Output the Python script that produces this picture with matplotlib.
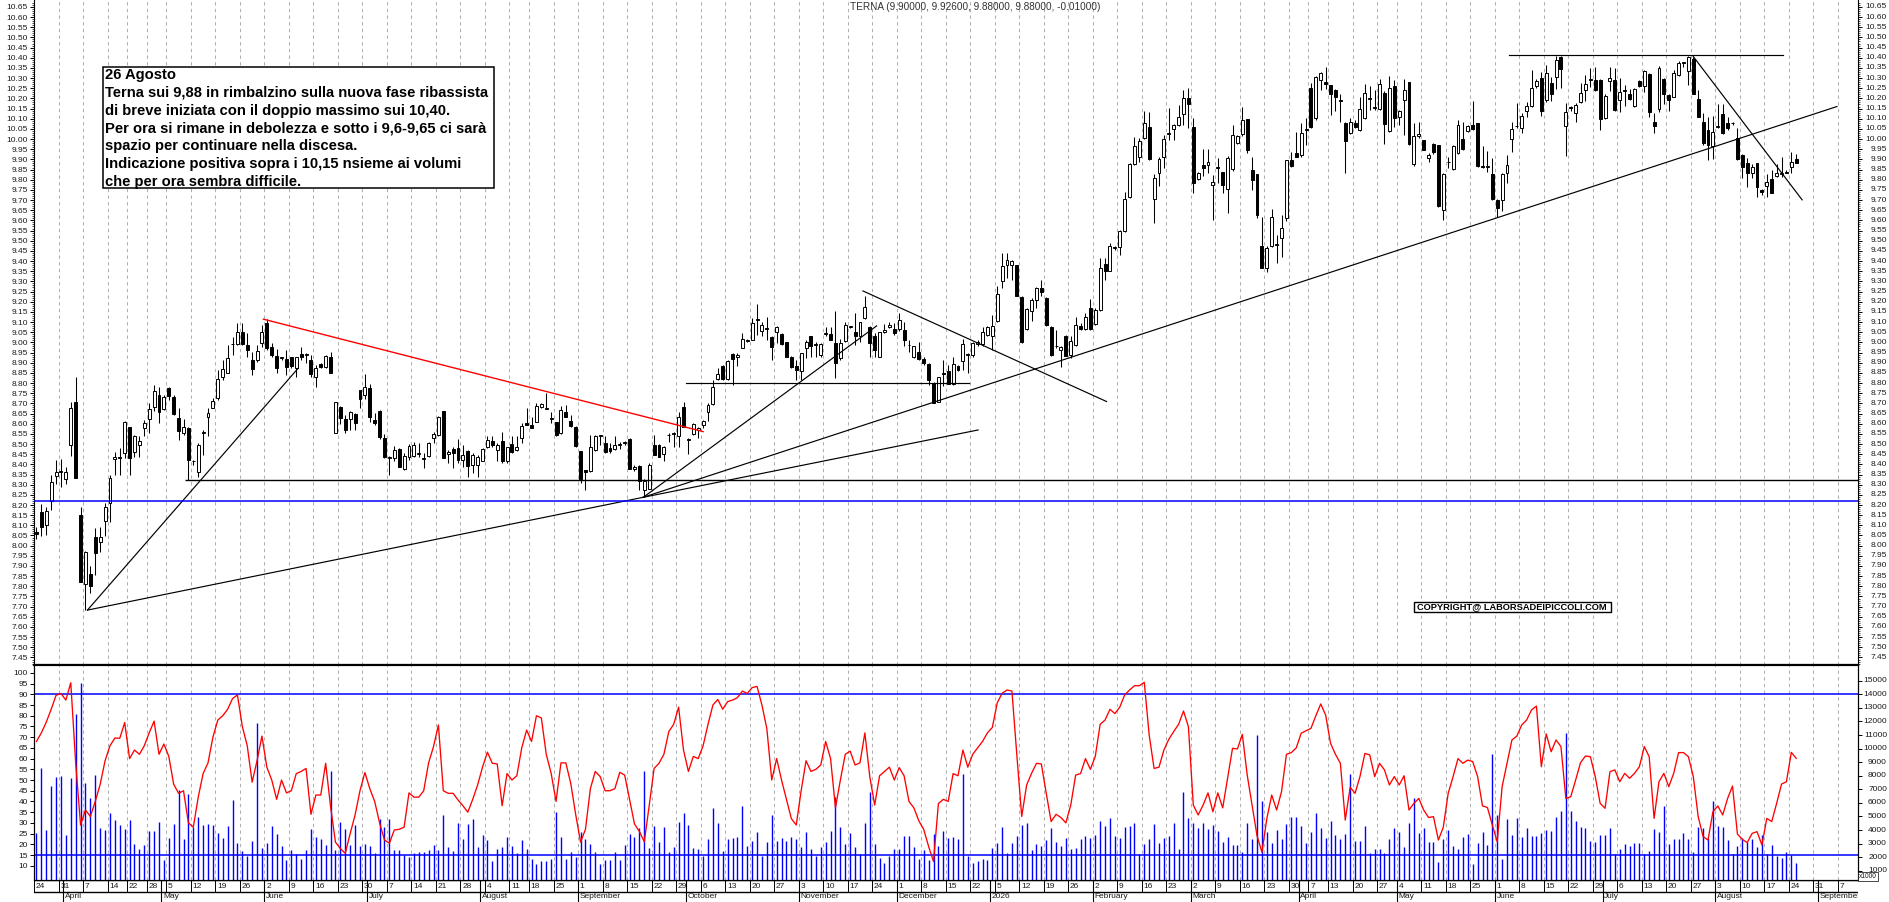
import numpy as np
import pandas as pd
import matplotlib
matplotlib.use("Agg")
import matplotlib.pyplot as plt
from matplotlib.patches import Rectangle
from matplotlib.ticker import FormatStrFormatter
from matplotlib.transforms import blended_transform_factory as blend

# ---- daily candles (24 Mar 2025 -> 26 Aug 2026) ----
opens = [
    8.066, 8.164, 8.102, 8.222, 8.345, 8.360, 8.327, 8.496, 8.705, 8.151,
    7.812, 7.859, 8.045, 8.017, 8.123, 8.212, 8.425, 8.433, 8.458, 8.582,
    8.463, 8.496, 8.577, 8.622, 8.684, 8.740, 8.671, 8.774, 8.733, 8.627,
    8.553, 8.578, 8.414, 8.360, 8.553, 8.632, 8.676, 8.725, 8.828, 8.851,
    8.990, 8.991, 9.053, 8.987, 8.914, 8.914, 8.996, 9.094, 8.976, 8.933,
    8.925, 8.920, 8.927, 8.873, 8.943, 8.940, 8.914, 8.832, 8.892, 8.877,
    8.928, 8.556, 8.681, 8.622, 8.622, 8.648, 8.766, 8.741, 8.774, 8.618,
    8.663, 8.528, 8.433, 8.430, 8.476, 8.376, 8.438, 8.442, 8.451, 8.432,
    8.442, 8.529, 8.545, 8.663, 8.451, 8.474, 8.479, 8.419, 8.465, 8.397,
    8.397, 8.415, 8.484, 8.517, 8.471, 8.515, 8.414, 8.500, 8.471, 8.529,
    8.601, 8.594, 8.610, 8.681, 8.674, 8.622, 8.607, 8.553, 8.656, 8.615,
    8.586, 8.465, 8.370, 8.365, 8.471, 8.540, 8.504, 8.479, 8.474, 8.496,
    8.507, 8.525, 8.376, 8.392, 8.274, 8.279, 8.497, 8.496, 8.451, 8.542,
    8.550, 8.537, 8.681, 8.520, 8.550, 8.570, 8.592, 8.658, 8.697, 8.819,
    8.884, 8.819, 8.943, 8.927, 8.971, 9.009, 9.012, 9.110, 9.058, 9.070,
    9.024, 9.049, 9.040, 9.001, 8.927, 8.885, 8.857, 8.971, 9.029, 8.988,
    8.937, 9.040, 9.040, 8.996, 8.922, 9.009, 9.075, 9.053, 9.029, 9.119,
    9.078, 9.029, 8.930, 9.049, 9.075, 9.065, 9.065, 9.062, 8.985, 8.930,
    8.955, 8.917, 8.893, 8.799, 8.709, 8.850, 8.857, 8.796, 8.885, 8.906,
    8.939, 8.939, 8.993, 8.993, 9.037, 9.032, 9.103, 9.303, 9.380, 9.380,
    9.380, 9.221, 9.068, 9.152, 9.206, 9.267, 9.217, 9.078, 8.980, 8.960,
    9.029, 8.939, 8.988, 9.081, 9.065, 9.168, 9.091, 9.160, 9.386, 9.352,
    9.466, 9.468, 9.550, 9.714, 9.878, 9.911, 10.004, 10.058, 9.704, 9.832,
    9.911, 10.026, 10.049, 10.070, 10.124, 10.201, 10.058, 9.803, 9.870, 9.872,
    9.775, 9.857, 9.837, 9.754, 9.852, 9.980, 10.026, 10.098, 9.849, 9.827,
    9.475, 9.368, 9.472, 9.480, 9.513, 9.614, 9.898, 9.931, 9.922, 10.045,
    10.250, 10.103, 10.291, 10.282, 10.267, 10.242, 10.190, 10.078, 10.029, 10.078,
    10.045, 10.103, 10.198, 10.156, 10.147, 10.226, 10.041, 10.263, 10.108, 10.193,
    10.280, 9.877, 10.016, 9.993, 9.906, 9.975, 9.972, 9.652, 9.888, 9.854,
    9.931, 10.000, 10.042, 10.070, 10.078, 9.865, 9.865, 9.829, 9.701, 9.701,
    9.832, 9.999, 10.066, 10.053, 10.138, 10.163, 10.261, 10.299, 10.192, 10.274,
    10.304, 10.402, 10.064, 10.158, 10.130, 10.181, 10.241, 10.290, 10.290, 10.290,
    10.102, 10.286, 10.290, 10.192, 10.238, 10.222, 10.163, 10.287, 10.261, 10.320,
    10.082, 10.148, 10.294, 10.217, 10.208, 10.315, 10.373, 10.336, 10.392, 10.195,
    10.086, 10.045, 9.968, 10.058, 10.123, 10.077, 10.077, 10.004, 9.922, 9.881,
    9.831, 9.881, 9.747, 9.771, 9.802, 9.818, 9.828, 9.836, 9.861, 9.900,
]
highs = [
    8.094, 8.205, 8.192, 8.348, 8.422, 8.425, 8.389, 8.709, 8.832, 8.192,
    7.975, 7.900, 8.086, 8.094, 8.209, 8.348, 8.463, 8.479, 8.615, 8.586,
    8.545, 8.537, 8.618, 8.700, 8.791, 8.782, 8.741, 8.782, 8.741, 8.676,
    8.622, 8.586, 8.422, 8.504, 8.569, 8.676, 8.725, 8.864, 8.914, 8.987,
    9.028, 9.097, 9.097, 9.045, 8.955, 8.987, 9.086, 9.114, 8.995, 8.966,
    8.930, 8.963, 8.930, 8.930, 8.979, 8.950, 8.938, 8.889, 8.897, 8.938,
    8.955, 8.709, 8.687, 8.643, 8.664, 8.651, 8.766, 8.843, 8.796, 8.654,
    8.668, 8.550, 8.441, 8.492, 8.479, 8.455, 8.501, 8.512, 8.504, 8.455,
    8.512, 8.561, 8.638, 8.663, 8.471, 8.487, 8.525, 8.497, 8.471, 8.455,
    8.448, 8.479, 8.537, 8.537, 8.504, 8.561, 8.487, 8.537, 8.537, 8.602,
    8.676, 8.635, 8.701, 8.704, 8.753, 8.655, 8.610, 8.688, 8.692, 8.643,
    8.589, 8.468, 8.370, 8.545, 8.545, 8.543, 8.540, 8.507, 8.537, 8.512,
    8.517, 8.528, 8.397, 8.397, 8.327, 8.406, 8.542, 8.499, 8.491, 8.553,
    8.561, 8.655, 8.709, 8.532, 8.602, 8.586, 8.619, 8.701, 8.815, 8.876,
    8.889, 8.914, 8.946, 8.946, 9.045, 9.015, 9.119, 9.189, 9.102, 9.127,
    9.029, 9.081, 9.045, 9.004, 8.934, 8.914, 8.950, 9.012, 9.032, 9.004,
    8.996, 9.078, 9.078, 9.152, 9.016, 9.098, 9.081, 9.143, 9.102, 9.226,
    9.081, 9.045, 9.053, 9.091, 9.098, 9.094, 9.143, 9.102, 9.012, 8.983,
    9.000, 8.927, 8.898, 8.803, 8.832, 8.914, 8.890, 8.927, 8.888, 9.016,
    8.947, 9.004, 9.012, 9.078, 9.081, 9.135, 9.278, 9.439, 9.442, 9.406,
    9.380, 9.226, 9.168, 9.217, 9.271, 9.307, 9.222, 9.081, 9.062, 8.980,
    9.037, 9.029, 9.127, 9.094, 9.144, 9.212, 9.168, 9.414, 9.414, 9.491,
    9.475, 9.553, 9.742, 9.881, 10.009, 10.004, 10.140, 10.131, 9.829, 9.911,
    10.021, 10.152, 10.075, 10.168, 10.239, 10.250, 10.103, 9.840, 9.950, 9.950,
    9.824, 9.909, 9.837, 9.919, 10.070, 10.021, 10.160, 10.099, 9.914, 9.827,
    9.619, 9.472, 9.657, 9.529, 9.627, 9.898, 9.934, 10.037, 10.078, 10.103,
    10.275, 10.311, 10.332, 10.352, 10.267, 10.245, 10.221, 10.086, 10.103, 10.095,
    10.206, 10.270, 10.259, 10.242, 10.295, 10.234, 10.311, 10.291, 10.144, 10.295,
    10.283, 10.078, 10.086, 9.996, 9.931, 9.983, 9.972, 9.832, 9.914, 9.972,
    10.095, 10.086, 10.070, 10.185, 10.081, 9.967, 9.939, 9.906, 9.704, 9.832,
    9.922, 10.082, 10.176, 10.127, 10.181, 10.340, 10.294, 10.331, 10.364, 10.303,
    10.409, 10.409, 10.179, 10.163, 10.176, 10.274, 10.315, 10.348, 10.356, 10.294,
    10.222, 10.356, 10.348, 10.299, 10.266, 10.245, 10.250, 10.290, 10.340, 10.323,
    10.127, 10.359, 10.299, 10.222, 10.340, 10.386, 10.381, 10.409, 10.402, 10.241,
    10.127, 10.107, 10.113, 10.172, 10.172, 10.110, 10.086, 10.053, 9.926, 9.905,
    9.877, 9.884, 9.753, 9.828, 9.848, 9.877, 9.913, 9.848, 9.938, 9.926,
]
lows = [
    8.032, 8.048, 8.050, 8.176, 8.302, 8.290, 8.304, 8.443, 8.332, 7.820,
    7.684, 7.766, 7.856, 7.971, 8.048, 8.118, 8.348, 8.348, 8.430, 8.348,
    8.438, 8.438, 8.541, 8.553, 8.660, 8.602, 8.668, 8.717, 8.643, 8.520,
    8.545, 8.323, 8.397, 8.340, 8.446, 8.537, 8.676, 8.717, 8.815, 8.848,
    8.938, 8.987, 8.987, 8.930, 8.840, 8.905, 8.979, 8.960, 8.930, 8.848,
    8.914, 8.840, 8.873, 8.832, 8.914, 8.897, 8.832, 8.782, 8.873, 8.873,
    8.851, 8.556, 8.599, 8.556, 8.569, 8.569, 8.679, 8.720, 8.610, 8.594,
    8.527, 8.433, 8.348, 8.414, 8.386, 8.373, 8.419, 8.438, 8.438, 8.381,
    8.438, 8.504, 8.537, 8.433, 8.406, 8.381, 8.406, 8.389, 8.340, 8.356,
    8.340, 8.414, 8.479, 8.487, 8.414, 8.409, 8.409, 8.455, 8.466, 8.504,
    8.594, 8.578, 8.610, 8.676, 8.671, 8.602, 8.540, 8.550, 8.635, 8.586,
    8.484, 8.310, 8.274, 8.361, 8.466, 8.496, 8.455, 8.455, 8.471, 8.474,
    8.496, 8.378, 8.365, 8.274, 8.240, 8.278, 8.446, 8.435, 8.414, 8.512,
    8.487, 8.487, 8.583, 8.450, 8.543, 8.529, 8.578, 8.615, 8.692, 8.815,
    8.815, 8.815, 8.791, 8.884, 8.971, 9.004, 9.012, 9.037, 9.029, 9.012,
    8.914, 8.996, 8.988, 8.930, 8.873, 8.816, 8.816, 8.922, 8.930, 8.930,
    8.930, 9.029, 9.012, 8.824, 8.914, 9.004, 9.070, 8.988, 9.004, 9.114,
    8.930, 8.930, 8.927, 9.045, 9.070, 9.037, 9.058, 8.980, 8.955, 8.922,
    8.914, 8.890, 8.791, 8.701, 8.706, 8.783, 8.794, 8.791, 8.857, 8.865,
    8.849, 8.930, 8.980, 8.980, 9.029, 8.963, 9.098, 9.267, 9.316, 9.308,
    9.226, 8.999, 9.062, 9.103, 9.168, 9.226, 9.081, 8.934, 8.971, 8.881,
    8.931, 8.922, 8.980, 9.062, 9.062, 9.062, 9.086, 9.152, 9.308, 9.349,
    9.455, 9.431, 9.545, 9.709, 9.873, 9.885, 9.999, 9.898, 9.586, 9.767,
    9.857, 9.996, 9.996, 10.062, 10.070, 10.054, 9.734, 9.799, 9.816, 9.832,
    9.603, 9.783, 9.734, 9.636, 9.845, 9.977, 10.013, 9.931, 9.750, 9.611,
    9.365, 9.344, 9.468, 9.390, 9.422, 9.595, 9.862, 9.911, 9.914, 9.972,
    10.054, 10.095, 10.242, 10.245, 10.119, 10.140, 10.086, 9.832, 10.026, 10.054,
    10.042, 10.100, 10.144, 10.144, 10.144, 9.977, 10.037, 10.058, 10.070, 10.021,
    9.972, 9.868, 10.004, 9.944, 9.885, 9.927, 9.668, 9.603, 9.860, 9.849,
    9.927, 9.947, 10.037, 10.045, 9.865, 9.857, 9.840, 9.701, 9.619, 9.644,
    9.783, 9.938, 10.053, 10.031, 10.107, 10.156, 10.250, 10.113, 10.184, 10.189,
    10.245, 10.250, 9.918, 10.140, 10.086, 10.176, 10.189, 10.254, 10.238, 10.045,
    10.097, 10.238, 10.140, 10.135, 10.163, 10.192, 10.160, 10.254, 10.233, 10.110,
    10.028, 10.135, 10.172, 10.140, 10.205, 10.310, 10.356, 10.266, 10.222, 10.107,
    9.971, 9.897, 9.900, 10.053, 10.025, 10.045, 10.069, 9.897, 9.807, 9.763,
    9.807, 9.717, 9.725, 9.717, 9.733, 9.812, 9.815, 9.831, 9.831, 9.880,
]
closes = [
    8.056, 8.094, 8.171, 8.314, 8.361, 8.365, 8.361, 8.676, 8.332, 7.823,
    7.971, 7.802, 7.963, 8.045, 8.192, 8.332, 8.438, 8.433, 8.610, 8.433,
    8.540, 8.517, 8.605, 8.672, 8.763, 8.656, 8.733, 8.737, 8.646, 8.566,
    8.586, 8.422, 8.414, 8.496, 8.553, 8.651, 8.714, 8.820, 8.868, 8.922,
    8.990, 9.050, 8.992, 8.960, 8.868, 8.958, 9.053, 8.970, 8.938, 8.872,
    8.925, 8.881, 8.884, 8.927, 8.927, 8.940, 8.843, 8.876, 8.877, 8.933,
    8.851, 8.709, 8.627, 8.569, 8.659, 8.602, 8.723, 8.779, 8.632, 8.602,
    8.533, 8.438, 8.433, 8.471, 8.389, 8.443, 8.491, 8.496, 8.451, 8.428,
    8.504, 8.548, 8.633, 8.433, 8.461, 8.455, 8.419, 8.445, 8.394, 8.448,
    8.438, 8.474, 8.519, 8.496, 8.496, 8.414, 8.484, 8.460, 8.483, 8.588,
    8.594, 8.580, 8.687, 8.696, 8.674, 8.622, 8.545, 8.668, 8.635, 8.591,
    8.488, 8.328, 8.364, 8.484, 8.537, 8.540, 8.460, 8.465, 8.496, 8.501,
    8.507, 8.379, 8.389, 8.320, 8.320, 8.399, 8.448, 8.438, 8.484, 8.542,
    8.550, 8.632, 8.586, 8.527, 8.597, 8.578, 8.615, 8.694, 8.781, 8.845,
    8.819, 8.910, 8.917, 8.938, 9.015, 9.009, 9.094, 9.110, 9.086, 9.065,
    8.975, 9.075, 8.991, 8.930, 8.881, 8.862, 8.947, 9.004, 8.980, 8.988,
    8.993, 9.040, 9.012, 8.898, 8.996, 9.086, 9.075, 9.032, 9.098, 9.176,
    8.996, 8.963, 9.049, 9.062, 9.086, 9.045, 9.108, 9.012, 8.985, 8.980,
    8.919, 8.898, 8.816, 8.704, 8.829, 8.846, 8.796, 8.893, 8.865, 8.991,
    8.939, 8.996, 9.004, 9.049, 9.075, 9.081, 9.237, 9.376, 9.403, 9.398,
    9.226, 9.004, 9.163, 9.209, 9.267, 9.250, 9.083, 8.939, 8.980, 8.975,
    8.934, 9.008, 9.086, 9.065, 9.124, 9.065, 9.160, 9.368, 9.352, 9.475,
    9.466, 9.550, 9.704, 9.877, 9.967, 9.988, 10.078, 9.903, 9.808, 9.901,
    10.000, 10.026, 10.070, 10.108, 10.201, 10.172, 9.783, 9.832, 9.857, 9.885,
    9.791, 9.857, 9.772, 9.906, 10.021, 10.013, 10.095, 9.947, 9.800, 9.624,
    9.365, 9.463, 9.619, 9.480, 9.562, 9.895, 9.868, 9.914, 10.029, 10.045,
    10.058, 10.304, 10.324, 10.270, 10.222, 10.206, 10.185, 9.988, 10.086, 10.058,
    10.147, 10.226, 10.198, 10.152, 10.272, 10.073, 10.250, 10.103, 10.139, 10.239,
    9.975, 10.013, 10.026, 9.947, 9.922, 9.934, 9.672, 9.827, 9.885, 9.967,
    10.070, 9.950, 10.062, 10.049, 9.868, 9.862, 9.865, 9.704, 9.660, 9.827,
    9.873, 10.048, 10.062, 10.113, 10.163, 10.250, 10.286, 10.140, 10.323, 10.222,
    10.389, 10.343, 10.135, 10.154, 10.168, 10.225, 10.271, 10.290, 10.241, 10.097,
    10.212, 10.302, 10.143, 10.233, 10.238, 10.196, 10.248, 10.261, 10.336, 10.135,
    10.064, 10.351, 10.222, 10.192, 10.327, 10.373, 10.373, 10.402, 10.222, 10.110,
    9.979, 9.971, 10.036, 10.058, 10.028, 10.053, 10.077, 9.900, 9.864, 9.831,
    9.864, 9.763, 9.742, 9.790, 9.736, 9.835, 9.828, 9.833, 9.889, 9.880,
]

# oscillator (left scale, red line)
osc = [
    68, 72, 77, 83, 89.5, 90.4, 87.3, 95.4, 58, 29,
    36, 33, 40, 48, 59, 66, 69.6, 69.5, 76.8, 60,
    64, 62, 66, 72, 77.5, 62, 66.8, 61, 48, 43.8,
    45, 30, 28, 42, 53, 58, 70, 78, 80, 83,
    88, 89.7, 75, 66, 49, 59, 70.5, 56, 50, 41,
    50, 44, 45, 53, 54, 55.4, 34, 43, 43, 57.8,
    37.6, 21, 18, 15.8, 25, 33.7, 45, 53.5, 46, 40,
    30, 22, 20.5, 26.7, 27, 28, 44, 42, 42, 45,
    58, 65.6, 75.7, 45, 43.8, 43.8, 40.7, 38, 35, 41,
    47.7, 56, 63, 57.8, 57.5, 38, 53, 50, 52, 65,
    73.3, 68, 80, 79, 62, 53.1, 40, 58, 58, 48.4,
    34, 21, 27, 46, 54, 51.6, 45, 45, 46, 53.6,
    52.3, 41, 29.5, 26, 21.2, 38, 55.4, 57.8, 62, 72.6,
    76, 84, 64, 54, 61, 60, 66, 76, 85, 87.6,
    83, 86.6, 87.3, 88.4, 91.5, 90.4, 93.1, 93.7, 85, 74,
    50, 60, 50, 41, 32, 29, 45, 59, 54, 55,
    57, 68, 60, 37, 50, 62, 63.5, 57, 58, 72,
    51.6, 38.3, 52, 54, 56, 50, 55.8, 52, 40, 37,
    31, 27, 19, 12, 39, 41, 40, 53, 52, 64,
    56, 62, 65, 68, 72, 74.5, 86, 90.5, 92, 91.5,
    61.7, 33, 47.7, 53.1, 57.8, 57.5, 43.8, 30.6, 34, 32.5,
    30, 38.3, 52.3, 53, 60, 55, 61, 76, 78, 83,
    81, 84, 89.7, 92, 94, 94, 95.6, 71, 55.4, 56,
    64, 69, 72.6, 76, 82.2, 74.9, 38.3, 33.7, 38.3, 44,
    35.2, 44, 37, 50.8, 64.8, 64.5, 71.3, 52.3, 38.3, 24,
    16.3, 32, 43, 36, 44.6, 62, 62.8, 65, 71.8, 73,
    74.1, 80, 85.5, 80.3, 67.1, 62, 57.8, 31.3, 46.6, 43.8,
    51.6, 62.4, 61.7, 51.6, 57.8, 54.7, 47.7, 51.6, 47.7, 52,
    36, 39.1, 41.4, 36, 32.5, 32.9, 22, 28, 43.8, 51.6,
    60, 57.8, 59.3, 58.6, 51.6, 37.9, 37.2, 29, 21.2, 46.9,
    57.8, 68.7, 70.5, 75.7, 78, 82.7, 84.5, 56.2, 71.5, 63.2,
    68.7, 65.6, 41.4, 42.2, 50, 58.1, 61.2, 60.9, 51.6, 39.1,
    36.8, 53.9, 54.7, 49.2, 53.1, 50.8, 53.1, 56.2, 65.6, 60.9,
    32.1, 49.2, 53.1, 46.9, 53.1, 62.8, 62.8, 60.9, 51.6, 32.9,
    23.6, 22, 35.2, 37.9, 33.7, 41.4, 47.2, 24.8, 22.3, 20.8,
    25.1, 25.9, 19.7, 32.1, 30.6, 39.1, 48.1, 49.2, 62.9, 60.1,
]

# volume in thousands (right scale is labelled x1000)
volume = [
    3.80, 8.60, 4.00, 7.27, 7.93, 8.00, 3.63, 7.86, 12.55, 14.81,
    7.49, 6.38, 8.05, 4.17, 4.00, 5.28, 4.74, 4.37, 4.07, 4.74,
    2.97, 2.60, 2.89, 3.93, 3.93, 4.59, 1.79, 3.39, 4.44, 6.95,
    3.34, 6.65, 4.20, 4.93, 4.37, 4.44, 4.37, 3.80, 3.39, 4.30,
    6.21, 3.07, 2.48, 2.08, 3.19, 11.86, 2.70, 3.07, 4.30, 3.70,
    2.82, 1.79, 2.53, 2.23, 1.84, 2.53, 4.07, 3.51, 3.34, 2.89,
    8.35, 2.53, 4.57, 4.07, 2.89, 4.37, 2.85, 2.97, 2.82, 2.33,
    4.81, 4.25, 4.81, 2.53, 2.53, 2.16, 2.03, 2.30, 2.35, 2.35,
    2.53, 2.87, 2.53, 5.10, 2.77, 2.45, 4.54, 3.34, 4.44, 4.81,
    2.75, 3.63, 3.26, 1.71, 2.60, 2.75, 3.51, 2.82, 2.33, 3.26,
    2.57, 1.84, 1.49, 1.71, 1.71, 1.84, 5.35, 3.51, 1.84, 2.38,
    2.01, 3.88, 3.34, 2.97, 2.35, 1.49, 1.79, 1.79, 2.35, 1.79,
    2.89, 3.68, 3.49, 4.12, 8.35, 2.65, 4.30, 3.12, 4.22, 2.35,
    2.75, 4.59, 5.25, 4.37, 2.67, 2.60, 2.11, 3.36, 5.62, 4.52,
    2.45, 3.34, 3.41, 3.49, 5.77, 2.82, 3.19, 3.85, 2.11, 3.12,
    5.11, 3.19, 3.41, 3.19, 3.49, 3.34, 2.75, 3.85, 2.60, 2.11,
    2.75, 3.12, 3.93, 6.43, 4.22, 2.97, 3.78, 2.75, 2.23, 4.52,
    6.80, 2.97, 1.96, 1.57, 2.11, 2.60, 2.60, 3.56, 3.56, 2.75,
    1.86, 2.53, 1.79, 3.71, 2.82, 3.95, 3.41, 3.49, 3.34, 8.15,
    2.11, 1.57, 1.70, 1.86, 1.79, 2.67, 3.04, 4.22, 2.30, 3.04,
    3.56, 4.37, 4.52, 2.53, 2.97, 2.82, 3.26, 4.15, 3.12, 2.82,
    3.41, 2.60, 2.67, 3.34, 3.56, 3.41, 3.63, 4.66, 4.30, 4.88,
    3.56, 3.41, 4.22, 4.30, 4.52, 2.26, 2.97, 3.34, 4.44, 3.04,
    3.41, 3.56, 4.52, 2.60, 6.80, 4.88, 4.52, 4.15, 4.52, 4.07,
    4.37, 3.93, 3.12, 3.49, 2.89, 2.89, 2.38, 4.52, 3.34, 11.00,
    6.14, 3.85, 3.04, 4.00, 3.34, 4.44, 4.96, 4.93, 4.29, 3.07,
    3.85, 5.28, 4.15, 3.41, 4.66, 3.66, 3.34, 3.73, 8.13, 3.21,
    3.21, 4.29, 2.30, 2.60, 2.60, 2.30, 3.34, 4.15, 3.85, 2.75,
    4.52, 6.36, 3.78, 4.15, 3.12, 3.12, 1.64, 3.34, 4.00, 2.82,
    2.60, 3.48, 3.70, 1.49, 3.04, 3.85, 2.89, 9.60, 5.10, 1.86,
    4.81, 3.63, 4.88, 3.48, 4.15, 3.56, 3.56, 3.78, 4.00, 3.93,
    4.96, 5.40, 11.15, 5.40, 4.66, 4.22, 4.15, 3.19, 3.12, 3.63,
    3.63, 4.15, 2.23, 2.60, 2.97, 2.82, 3.04, 3.04, 2.23, 2.45,
    4.07, 3.85, 5.77, 2.97, 3.34, 3.34, 3.78, 3.34, 2.38, 4.22,
    4.15, 3.41, 6.14, 4.29, 4.22, 3.26, 2.23, 2.82, 3.41, 3.12,
    3.34, 2.75, 3.63, 2.23, 2.89, 2.08, 1.93, 2.38, 2.16, 1.57,
]

# hand drawn lines: ((bar index, price), (bar index, price))
black_lines = [
    ((10.4, 7.683), (53.4, 8.873)),
    ((10.4, 7.683), (123.8, 8.238)),
    ((123.8, 8.238), (171.4, 9.081)),
    ((123.8, 8.238), (367.3, 10.160)),
    ((123.8, 8.238), (192.1, 8.569)),
    ((132.5, 8.800), (190.2, 8.800)),
    ((168.6, 9.253), (218.3, 8.709)),
    ((300.5, 10.414), (356.2, 10.414)),
    ((338.0, 10.406), (360.2, 9.701)),
]
red_line = ((46.3, 9.114), (136.0, 8.561))
support_level = 8.322
blue_level = 8.22
osc_levels = [90, 15]

note_lines = [
    "26 Agosto",
    "Terna sui 9,88 in rimbalzino sulla nuova fase ribassista",
    "di breve iniziata con il doppio massimo sui 10,40.",
    "Per ora si rimane in debolezza e sotto i 9,6-9,65 ci sarà",
    "spazio per continuare nella discesa.",
    "Indicazione positiva sopra i 10,15 nsieme ai volumi",
    "che per ora sembra difficile.",
]

# ---- trading calendar (Borsa Italiana) ----
holidays = pd.to_datetime([
    "2025-04-18", "2025-04-21", "2025-05-01", "2025-08-15", "2025-12-24",
    "2025-12-25", "2025-12-26", "2025-12-31", "2026-01-01", "2026-04-03",
    "2026-04-06", "2026-05-01",
])
sessions = pd.bdate_range("2025-03-24", "2026-09-30")
sessions = sessions[~sessions.isin(holidays)]

week_starts = []
for k, d in enumerate(sessions):
    if k == 0 or d.weekday() < sessions[k - 1].weekday():
        if d.month == 12 and d.day > 27:  # the chart skips the year-end week
            continue
        week_starts.append(k)
month_starts = [k for k in range(1, len(sessions))
                if sessions[k].month != sessions[k - 1].month]

# ---- figure layout in pixels ----
W, H = 1890, 902
plt.rcParams["font.family"] = ["Liberation Sans", "DejaVu Sans"]
fig = plt.figure(figsize=(W / 100, H / 100), dpi=100, facecolor="white")


def px_rect(x0, y0, x1, y1):
    return [x0 / W, 1 - y1 / H, (x1 - x0) / W, (y1 - y0) / H]


X0, X1 = 34, 1858
XMIN, XMAX = -0.5, 371.6
LBL = "#1a1a1a"
GRID = dict(color="#b0b0b0", lw=0.75, ls=(0, (3.2, 3.2)), zorder=0.5)
BLUE = "#0000ff"

ax = fig.add_axes(px_rect(X0, 0, X1, 665))
axo = fig.add_axes(px_rect(X0, 665, X1, 880))
axv = axo.twinx()
axd = fig.add_axes(px_rect(X0, 880, X1, 902))

for a in (ax, axo, axv, axd):
    a.set_xlim(XMIN, XMAX)

for k in week_starts:
    if k - 0.5 < XMAX:
        ax.axvline(k - 0.5, **GRID)
        axo.axvline(k - 0.5, **GRID)

# ---- price panel ----
x = np.arange(len(closes))
o, h, l, c = (np.array(v) for v in (opens, highs, lows, closes))
up = c >= o
bottom = np.minimum(o, c)
body = np.maximum(np.abs(c - o), 0.004)
ax.vlines(x, l, h, color="black", lw=0.75, zorder=3)
ax.bar(x[up], body[up], bottom=bottom[up], width=0.6, color="white",
       edgecolor="black", linewidth=0.7, zorder=4)
ax.bar(x[~up], body[~up], bottom=bottom[~up], width=0.6, color="black",
       edgecolor="black", linewidth=0.7, zorder=4)

for (xa, ya), (xb, yb) in black_lines:
    ax.plot([xa, xb], [ya, yb], color="black", lw=0.85, zorder=5)
(xa, ya), (xb, yb) = red_line
ax.plot([xa, xb], [ya, yb], color="#ff0000", lw=1.0, zorder=5)
ax.hlines(support_level, 30.4, XMAX, color="black", lw=1.0, zorder=5)
ax.axhline(blue_level, color=BLUE, lw=1.1, zorder=5)

ax.set_ylim(7.413, 10.684)
price_ticks = np.round(np.arange(7.45, 10.651, 0.05), 2)
ax.set_yticks(price_ticks)
ax.set_yticks(np.round(np.arange(7.42, 10.68, 0.01), 2), minor=True)
ax.yaxis.set_major_formatter(FormatStrFormatter("%.2f"))
ax.set_xticks([])
ax.tick_params(axis="y", which="major", left=True, right=True, length=3,
               width=0.7, labelsize=6, labelcolor=LBL, pad=1.5)
ax.tick_params(axis="y", which="minor", left=True, right=True, length=1.5,
               width=0.5)
tr = blend(ax.transAxes, ax.transData)
for v in price_ticks:
    ax.text(1 + 29 / (X1 - X0), v, f"{v:.2f}", transform=tr, ha="right",
            va="center", fontsize=6, color=LBL)
ax.spines["top"].set_visible(False)
ax.spines["bottom"].set_linewidth(1.5)

# ---- oscillator / volume panel ----
axo.set_ylim(3.35, 103.67)
axv.set_ylim(0.316, 16.16)
axo.vlines(x, 0, volume, color=BLUE, lw=1.0, transform=axv.transData,
           zorder=2)
for lv in osc_levels:
    axo.axhline(lv, color=BLUE, lw=1.1, zorder=3)
axo.plot(x, osc, color="#ff0000", lw=0.95, zorder=4)

axo.set_xticks([])
axo.set_yticks(range(10, 101, 5))
axo.tick_params(axis="y", length=3, width=0.7, labelsize=6, labelcolor=LBL,
                pad=1.5)
axv.set_yticks(range(1, 16))
axv.tick_params(axis="y", length=3, width=0.7, labelright=False)
trv = blend(axv.transAxes, axv.transData)
for v in range(1, 16):
    axv.text(1 + 29 / (X1 - X0), v, f"{v * 1000}", transform=trv, ha="right",
             va="center", fontsize=6, color=LBL)
axo.spines["top"].set_linewidth(1.5)
axv.spines["top"].set_linewidth(1.5)
fig.text(1859 / W, 1 - 876 / H, "x1000", fontsize=4.8, color=LBL,
         ha="left", va="center",
         bbox=dict(boxstyle="square,pad=0.15", fc="white", ec="black", lw=0.5))

# ---- date rows ----
axd.set_ylim(22, 0)
axd.axis("off")
axd.axhline(11.7, color="black", lw=1.0)
axd.axhline(0.3, color="black", lw=1.0)
for k in week_starts:
    xk = k - 0.5
    if xk < XMAX:
        axd.vlines(xk, 0, 11.7, color="black", lw=0.7)
        axd.text(xk + 0.35, 6.2, str(sessions[k].day), fontsize=6,
                 color=LBL, ha="left", va="center", clip_on=True)
for k in month_starts:
    xk = k - 0.5
    if xk < XMAX:
        d = sessions[k]
        name = str(d.year) if d.month == 1 else d.strftime("%B")
        axd.vlines(xk, 0, 22, color="black", lw=0.8)
        axd.text(xk + 0.35, 16.8, name, fontsize=6, color=LBL,
                 ha="left", va="center", clip_on=True)

# ---- texts ----
fig.text(850 / W, 1 - 7 / H,
         "TERNA (9.90000, 9.92600, 9.88000, 9.88000, -0.01000)",
         fontsize=7.2, color="#333333", ha="left", va="center")

fig.add_artist(Rectangle((103 / W, 1 - 188 / H), (494 - 103) / W, (188 - 67) / H,
                         transform=fig.transFigure, facecolor="white",
                         edgecolor="black", lw=1.1, zorder=5))
for n, line in enumerate(note_lines):
    fig.text(105 / W, 1 - (79 + 17.8 * n) / H, line, fontsize=10.6,
             fontweight="bold", ha="left", va="baseline", zorder=6)

fig.add_artist(Rectangle((1414 / W, 1 - 612.3 / H), 197 / W, 10.6 / H,
                         transform=fig.transFigure, facecolor="white",
                         edgecolor="black", lw=1.0, zorder=5))
fig.text(1417 / W, 1 - 607 / H, "COPYRIGHT@ LABORSADEIPICCOLI.COM",
         fontsize=6.7, fontweight="bold", ha="left", va="center", zorder=6)

fig.savefig("out.png", dpi=100, facecolor="white")
